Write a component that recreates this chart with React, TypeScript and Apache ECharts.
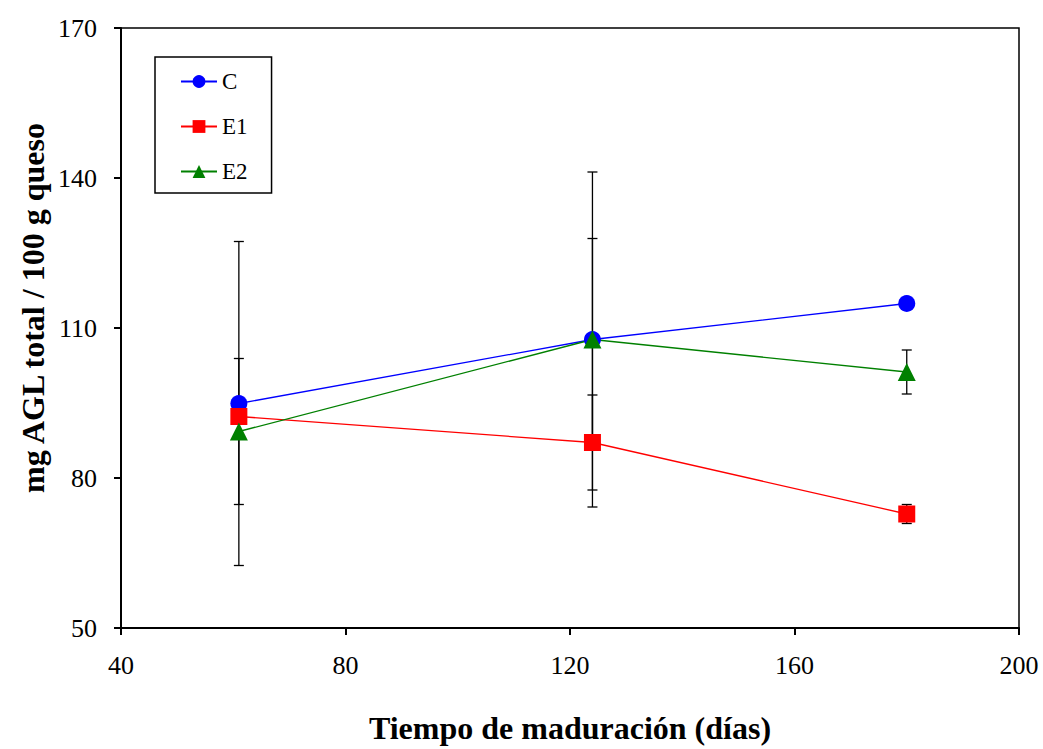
import React, { useEffect, useRef } from "react";
import * as echarts from "echarts";

const days = [61, 124, 180];
const valC = [94.9, 107.7, 114.9];
const valE1 = [92.3, 87.1, 72.8];
const valE2 = [89.3, 107.7, 101.2];
const errC = [32.4, 33.5, 0];
const errE1 = [0, 9.5, 1.9];
const errE2 = [14.6, 20.2, 4.4];
const xTicks = [40, 80, 120, 160, 200];
const yTicks = [50, 80, 110, 140, 170];

const FONT = "Liberation Serif";

function errData(vals: number[], errs: number[]) {
  return days.map((d, i) => [d, vals[i] - errs[i], vals[i] + errs[i]]);
}

const renderErr = (params: any, api: any) => {
  const x = api.value(0);
  const lo = api.coord([x, api.value(1)]);
  const hi = api.coord([x, api.value(2)]);
  if (Math.abs(lo[1] - hi[1]) < 0.5) return { type: "group", children: [] };
  const cap = 5;
  const style = { stroke: "#000", lineWidth: 1.3 };
  return {
    type: "group",
    children: [
      { type: "line", shape: { x1: lo[0], y1: lo[1], x2: hi[0], y2: hi[1] }, style },
      { type: "line", shape: { x1: lo[0] - cap, y1: lo[1], x2: lo[0] + cap, y2: lo[1] }, style },
      { type: "line", shape: { x1: hi[0] - cap, y1: hi[1], x2: hi[0] + cap, y2: hi[1] }, style },
    ],
  };
};

export default function App() {
  const ref = useRef<HTMLDivElement>(null);
  useEffect(() => {
    const chart = echarts.init(ref.current!, undefined, { renderer: "svg" });
    const lineSeries = (name: string, vals: number[], color: string, symbol: string, size: number) => ({
      name,
      type: "line",
      data: days.map((d, i) => [d, vals[i]]),
      symbol,
      symbolSize: size,
      showAllSymbol: true,
      lineStyle: { color, width: 1.3 },
      itemStyle: { color },
      z: 5,
    });
    const labelStyle = { fontFamily: FONT, fontSize: 26, color: "#000" };
    chart.setOption({
      animation: false,
      backgroundColor: "#fff",
      textStyle: { fontFamily: FONT, color: "#000" },
      grid: {
        left: 121,
        top: 28,
        right: 24,
        bottom: 120,
        show: true,
        borderColor: "#000",
        borderWidth: 1.5,
      },
      legend: {
        orient: "vertical",
        left: 155,
        top: 57,
        data: ["C", "E1", "E2"],
        itemWidth: 36,
        itemHeight: 16,
        itemGap: 22,
        padding: [13, 24, 10, 25],
        borderColor: "#000",
        borderWidth: 1.5,
        textStyle: { fontFamily: FONT, fontSize: 23, color: "#000" },
      },
      graphic: [
        {
          type: "text",
          x: 33,
          y: 308,
          rotation: Math.PI / 2,
          style: {
            text: "mg AGL total / 100 g queso",
            fontFamily: FONT,
            fontSize: 32,
            fontWeight: "bold",
            fill: "#000",
            align: "center",
            verticalAlign: "middle",
          },
        },
      ],
      xAxis: {
        type: "value",
        min: 40,
        max: 200,
        interval: 40,
        name: "Tiempo de maduración (días)",
        nameLocation: "middle",
        nameGap: 84,
        nameTextStyle: { fontFamily: FONT, fontSize: 32, fontWeight: "bold", color: "#000" },
        axisLine: { show: true, lineStyle: { color: "#000", width: 2 } },
        axisTick: { show: true, inside: false, length: 7, lineStyle: { color: "#000", width: 2 } },
        axisLabel: {
          ...labelStyle,
          margin: 24,
          formatter: (v: number) => (xTicks.includes(v) ? String(v) : ""),
        },
        splitLine: { show: false },
      },
      yAxis: {
        type: "value",
        min: 50,
        max: 170,
        interval: 30,
        axisLine: { show: true, lineStyle: { color: "#000", width: 2 } },
        axisTick: { show: true, inside: false, length: 7, lineStyle: { color: "#000", width: 2 } },
        axisLabel: {
          ...labelStyle,
          margin: 24,
          formatter: (v: number) => (yTicks.includes(v) ? String(v) : ""),
        },
        splitLine: { show: false },
      },
      series: [
        { type: "custom", name: "errC", renderItem: renderErr, data: errData(valC, errC), z: 2, encode: { x: 0, y: [1, 2] } },
        { type: "custom", name: "errE1", renderItem: renderErr, data: errData(valE1, errE1), z: 2, encode: { x: 0, y: [1, 2] } },
        { type: "custom", name: "errE2", renderItem: renderErr, data: errData(valE2, errE2), z: 2, encode: { x: 0, y: [1, 2] } },
        lineSeries("C", valC, "#0000ff", "circle", 17),
        lineSeries("E1", valE1, "#ff0000", "rect", 17),
        lineSeries("E2", valE2, "#008000", "triangle", 18),
      ],
    });
    return () => chart.dispose();
  }, []);
  return <div ref={ref} style={{ width: 1043, height: 749, position: "absolute", left: 0, top: 0 }} />;
}
